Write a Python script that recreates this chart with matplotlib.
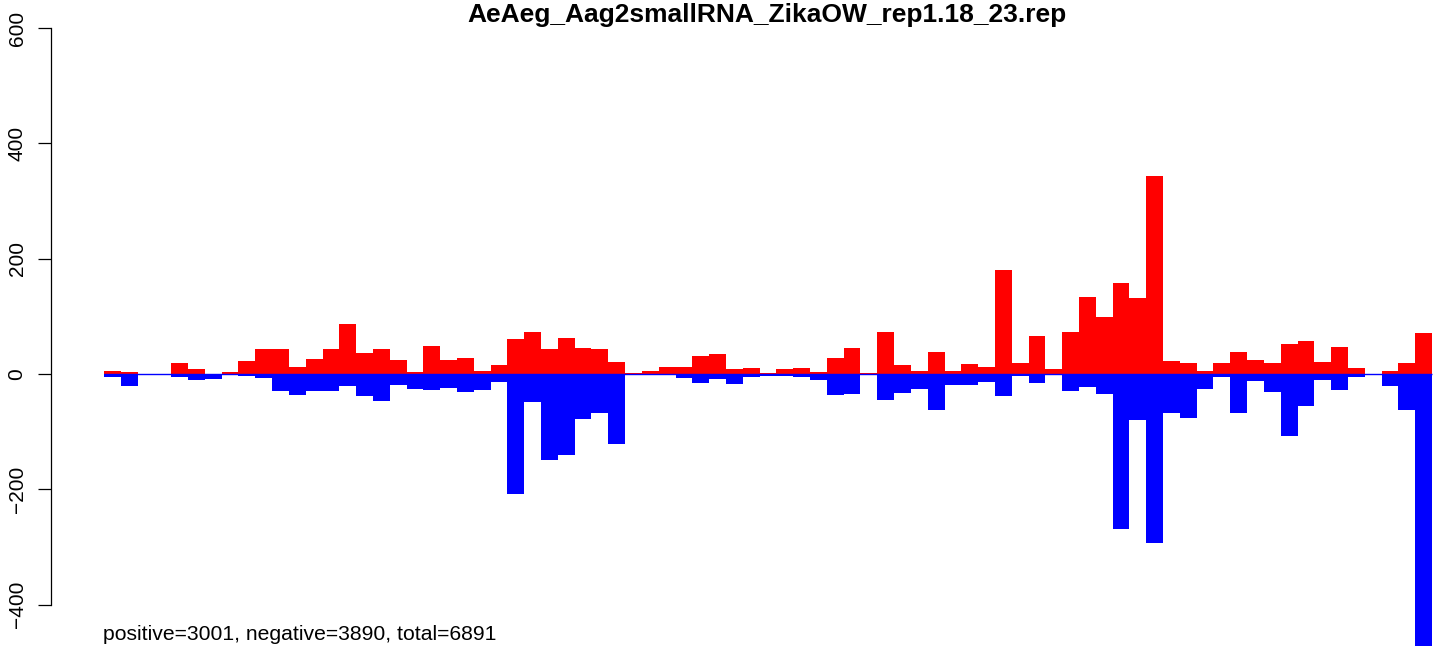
import matplotlib
matplotlib.use('Agg')
import matplotlib.pyplot as plt
import numpy as np

plt.rcParams['font.family'] = ['Liberation Sans', 'DejaVu Sans']

title = 'AeAeg_Aag2smallRNA_ZikaOW_rep1.18_23.rep'
footer = 'positive=3001, negative=3890, total=6891'

# read counts per bin (79 bins), positive strand up, negative strand down
pos_counts = [6, 3, 0, 0, 19, 8, 0, 3, 22, 43, 43, 12, 26, 43, 87, 36,
              43, 24, 3, 48, 24, 27, 5, 15, 60, 73, 43, 62, 45, 43, 20, 2,
              5, 12, 12, 31, 34, 8, 10, 1, 8, 10, 3, 27, 45, 2, 73, 15,
              5, 38, 5, 17, 12, 181, 19, 66, 8, 73, 134, 99, 158, 132, 343,
              22, 19, 5, 19, 38, 24, 19, 52, 57, 20, 47, 10, 0, 5, 19, 71]
neg_counts = [5, 21, 0, 0, 5, 11, 8, 1, 4, 7, 30, 37, 30, 30, 21, 38,
              47, 19, 26, 28, 24, 31, 28, 14, 209, 49, 150, 141, 78, 68, 122, 1,
              1, 1, 7, 16, 9, 17, 5, 4, 4, 5, 10, 37, 35, 1, 45, 33,
              26, 63, 19, 19, 14, 38, 4, 16, 2, 30, 23, 35, 268, 80, 294,
              67, 77, 26, 5, 68, 12, 31, 108, 56, 11, 28, 5, 1, 20, 63, 472]
yticks = [-400, -200, 0, 200, 400, 600]

n = len(pos_counts)
idx = np.arange(n)

W, H = 1444, 656
left_px, right_px = 104, 1432   # where the bars start / end
bw = (right_px - left_px) / n
zero_px = 374
px_per_unit = 115.3 / 200

fig = plt.figure(figsize=(W / 100, H / 100), dpi=100)
ax = fig.add_axes([0, 0, 1, 1])
ax.set_xlim(-left_px / bw, (W - left_px) / bw)
ax.set_ylim(-(H - zero_px) / px_per_unit, zero_px / px_per_unit)

ax.bar(idx, pos_counts, width=1, align='edge', color='#ff0000', linewidth=0, antialiased=False)
ax.bar(idx, -np.array(neg_counts), width=1, align='edge', color='#0000ff', linewidth=0, antialiased=False)
ax.hlines(0, 0, n, color='#0000ff', linewidth=1.0, zorder=3)

for s in ['top', 'right', 'bottom']:
    ax.spines[s].set_visible(False)
ax.spines['left'].set_position(('data', (51 - left_px) / bw))
ax.spines['left'].set_bounds(-400, 600)
ax.spines['left'].set_linewidth(0.9)
ax.set_xticks([])
ax.set_yticks(yticks)
ax.set_yticklabels([str(t).replace('-', '\u2212') for t in yticks])
ax.tick_params(axis='y', length=9.6, width=0.9, pad=8, labelsize=15)
plt.setp(ax.get_yticklabels(), rotation=90, va='center')

fig.text(767 / W, 1 - 22 / H, title, ha='center', va='baseline',
         fontsize=19, fontweight='bold')
fig.text(103 / W, 1 - 640 / H, footer, ha='left', va='baseline', fontsize=15.2)

fig.savefig('out.png', dpi=100)
